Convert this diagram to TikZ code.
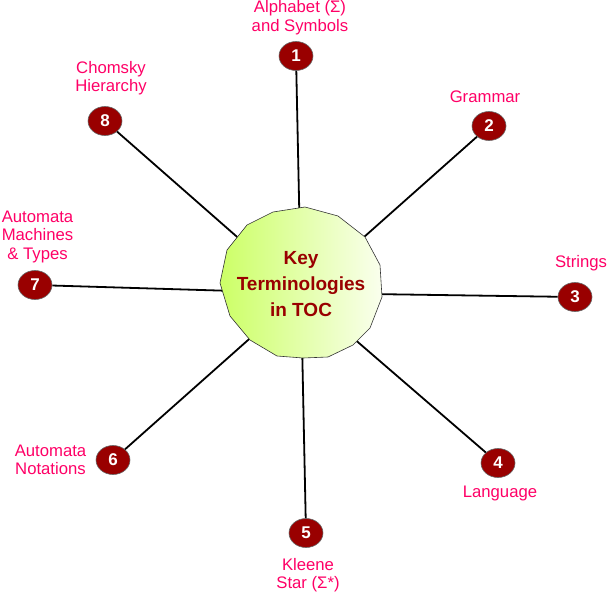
\documentclass[tikz,border=0pt]{standalone}
\usepackage{fontspec}
\setmainfont{Liberation Sans}
\usetikzlibrary{shapes.geometric}
\definecolor{lbl}{RGB}{255,0,102}
\definecolor{dred}{RGB}{153,0,0}
\definecolor{gleft}{RGB}{204,255,102}
\definecolor{gright}{RGB}{250,255,238}
\begin{document}
\begin{tikzpicture}[x=1pt,y=-1pt,
  num/.style={ellipse, minimum width=34pt, minimum height=29pt, inner sep=0pt, fill=dred, draw=black!60, line width=0.6pt, text=white, font=\fontsize{17}{19}\selectfont\bfseries},
  lab/.style={text=lbl, align=center, inner sep=0pt, font=\fontsize{16.7}{18.5}\selectfont},
  spoke/.style={line width=1.8pt, black},
  hubshape/.style={draw=black!80, line width=0.6pt, left color=gleft, right color=gright},
  hubtext/.style={text=dred, align=center, inner sep=0pt, font=\fontsize{19}{26}\selectfont\bfseries}]
\useasboundingbox (0,0) rectangle (607,594);
\coordinate (hub) at (301,293);
\node[num] (n1) at (296,56) {1};
\node[num] (n2) at (489,126) {2};
\node[num] (n3) at (575,297) {3};
\node[num] (n4) at (498,463) {4};
\node[num] (n5) at (306,533) {5};
\node[num] (n6) at (113,460) {6};
\node[num] (n7) at (35,285) {7};
\node[num] (n8) at (105,121) {8};
\foreach \i in {1,...,8} \draw[spoke] (n\i) -- (hub);
\path[hubshape] (273,212) -- (305,207) -- (338,216) -- (365,237) -- (380,265) -- (382,297) -- (370,328) -- (353,345) -- (328,357) -- (303,358) -- (277,356) -- (250,340) -- (230,316) -- (220,283) -- (227,250) -- (247,225) -- cycle;
\node[hubtext] (title) at (301,284) {Key\\Terminologies\\in TOC};
\node[lab] (l1) at (300,17.5) {Alphabet (Σ)\\and Symbols};
\node[lab] (l2) at (485,97) {Grammar};
\node[lab] (l3) at (581,263) {Strings};
\node[lab] (l4) at (500,493) {Language};
\node[lab] (l5) at (308,575) {Kleene\\Star (Σ*)};
\node[lab] (l6) at (50.5,460) {Automata\\Notations};
\node[lab] (l7) at (37.5,236.5) {Automata\\Machines\\\&~Types};
\node[lab] (l8) at (111,78) {Chomsky\\Hierarchy};
\end{tikzpicture}
\end{document}
